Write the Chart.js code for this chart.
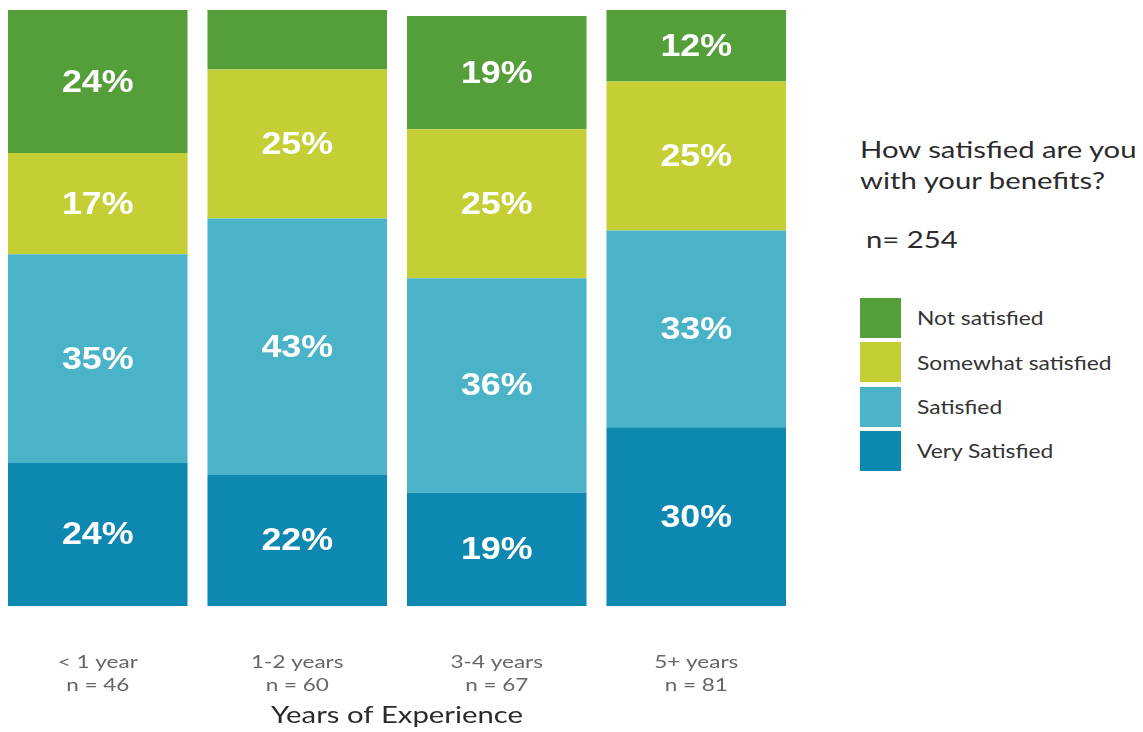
<!DOCTYPE html>
<html>
<head>
<meta charset="utf-8">
<script src="https://cdn.jsdelivr.net/npm/chart.js@4.4.1/dist/chart.umd.min.js"></script>
<style>
    html, body { margin: 0; padding: 0; background: #fff; }
    body { width: 1143px; height: 732px; position: relative; overflow: hidden; font-family: Lato, "Noto Sans", sans-serif; }
    #wrap { position: absolute; left: -2px; top: 0; width: 798px; height: 732px; }
    #side { position: absolute; left: 860px; top: 133px; color: #2b2b2b; }
    .wide { display: inline-block; transform-origin: 0 50%; white-space: nowrap; }
    #side .title { font-size: 24px; line-height: 31px; }
    #side .title .wide { transform: scaleX(1.22); }
    #side .n { font-size: 24px; line-height: 28.8px; margin: 30px 0 0 6px; }
    #side .n .wide { transform: scaleX(1.22); }
    #side ul { list-style: none; margin: 44px 0 0 0; padding: 0; }
    #side li { display: flex; align-items: center; height: 40px; margin-bottom: 4.4px; font-size: 19px; color: #333; }
    #side li .wide { transform: scaleX(1.2); }
    #side li span.box { width: 41px; height: 40px; margin-right: 16px; }
</style>
</head>
<body>
<div id="wrap"><canvas id="chart"></canvas></div>
<div id="side">
    <div class="title"><span class="wide">How satisfied are you</span><br><span class="wide">with your benefits?</span></div>
    <div class="n"><span class="wide">n= 254</span></div>
    <ul id="legend"></ul>
</div>
<script>
const groups = ["< 1 year", "1-2 years", "3-4 years", "5+ years"];
const groupN = [46, 60, 67, 81];
const axisTitle = "Years of Experience";

// percentages, bottom of the stack first
const verySatisfied = [24, 22, 19, 30];
const satisfied = [35, 43, 36, 33];
const somewhatSatisfied = [17, 25, 25, 25];
const notSatisfied = [24, 10, 19, 12];

const seriesNames = ["Very Satisfied", "Satisfied", "Somewhat satisfied", "Not satisfied"];
const seriesColors = ["#0e88b1", "#4ab3c8", "#c4cf36", "#559f3a"];

const seriesValues = [verySatisfied, satisfied, somewhatSatisfied, notSatisfied];

// text drawn a little wider than the font's natural width
function wideText(ctx, text, x, y, stretch) {
    ctx.save();
    ctx.translate(x, y);
    ctx.scale(stretch, 1);
    ctx.fillText(text, 0, 0);
    ctx.restore();
}

// white percentage inside each segment, skipped when the segment is too thin
const segmentLabels = {
    id: "segmentLabels",
    afterDatasetsDraw(chart) {
        const { ctx } = chart;
        ctx.save();
        ctx.fillStyle = "#ffffff";
        ctx.font = "bold 32px 'Liberation Sans', Arial, sans-serif";
        ctx.textAlign = "center";
        ctx.textBaseline = "alphabetic";
        chart.data.datasets.forEach((ds, i) => {
            const meta = chart.getDatasetMeta(i);
            meta.data.forEach((bar, j) => {
                const v = ds.data[j];
                if (v < 11) return;
                const y = (bar.y + bar.base) / 2;
                wideText(ctx, v + "%", bar.x, y + 10, 1.12);
            });
        });
        ctx.restore();
    },
};

// category labels (two lines) and the axis title under the bars
const categoryAxis = {
    id: "categoryAxis",
    afterDraw(chart) {
        const { ctx } = chart;
        const xs = chart.scales.x;
        ctx.save();
        ctx.textAlign = "center";
        ctx.textBaseline = "alphabetic";
        ctx.fillStyle = "#666666";
        ctx.font = "18px Lato";
        groups.forEach((g, i) => {
            const x = xs.getPixelForTick(i);
            wideText(ctx, g, x, 668, 1.25);
            wideText(ctx, "n = " + groupN[i], x, 691, 1.25);
        });
        ctx.fillStyle = "#2b2b2b";
        ctx.font = "24px Lato";
        wideText(ctx, axisTitle, (xs.left + xs.right) / 2, 723, 1.22);
        ctx.restore();
    },
};

const chart = new Chart(document.getElementById("chart"), {
    type: "bar",
    data: {
        labels: groups,
        datasets: seriesValues.map((vals, i) => ({
            label: seriesNames[i],
            data: vals,
            backgroundColor: seriesColors[i],
            borderWidth: 0,
            barPercentage: 0.9,
            categoryPercentage: 1,
        })),
    },
    options: {
        responsive: true,
        maintainAspectRatio: false,
        animation: false,
        layout: { padding: { top: 10, left: 0, right: 0, bottom: 0 } },
        scales: {
            x: {
                stacked: true,
                grid: { display: false, drawTicks: false },
                border: { display: false },
                ticks: { display: false },
                afterFit(scale) {
                    scale.height = 126;
                },
            },
            y: {
                stacked: true,
                display: false,
                min: 0,
                max: 100,
            },
        },
        plugins: {
            legend: { display: false },
            tooltip: { enabled: false },
        },
    },
    plugins: [segmentLabels, categoryAxis],
});

// legend on the right, top of the stack first
const legendEl = document.getElementById("legend");
for (let i = seriesNames.length - 1; i >= 0; i--) {
    const li = document.createElement("li");
    const box = document.createElement("span");
    box.className = "box";
    box.style.background = seriesColors[i];
    const txt = document.createElement("span");
    txt.className = "wide";
    txt.textContent = seriesNames[i];
    li.appendChild(box);
    li.appendChild(txt);
    legendEl.appendChild(li);
}
</script>
</body>
</html>
